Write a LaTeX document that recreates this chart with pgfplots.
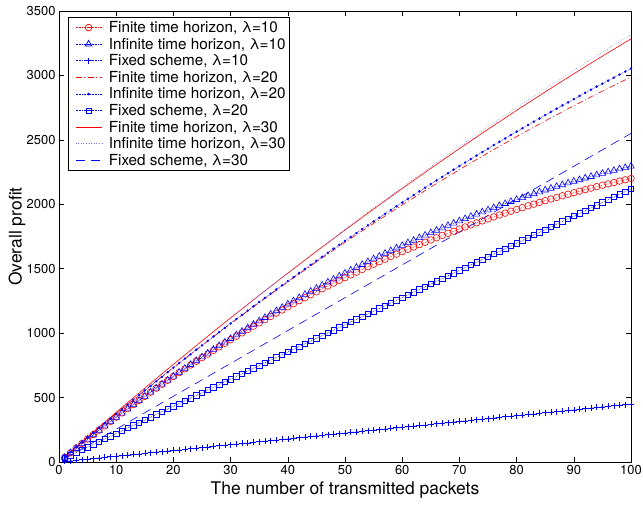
\documentclass[border=0pt]{standalone}
\usepackage{fontspec}
\setmainfont{TeX Gyre Heros}
\usepackage{pgfplots}
\pgfplotsset{compat=1.18}
\begin{document}
\begin{tikzpicture}
\begin{axis}[
  at={(0,0)}, anchor=south west,
  scale only axis, width=572bp, height=451bp,
  xmin=0, xmax=100, ymin=0, ymax=3500,
  xtick={0,10,...,100}, ytick={0,500,...,3500},
  tick align=inside, xtick pos=both, ytick pos=both,
  major tick length=5bp,
  axis line style={line width=0.8bp},
  every tick/.style={black, line width=0.6bp},
  tick label style={font=\fontsize{13}{15}\selectfont},
  /pgf/number format/assume math mode=true,
  /pgf/number format/1000 sep={},
  xlabel={The number of transmitted packets},
  ylabel={Overall profit},
  label style={font=\fontsize{17.5}{20}\selectfont},
  xlabel style={at={(axis description cs:0.5,0)}, anchor=north, yshift=-16bp},
  ylabel style={at={(axis description cs:-0.0525,0.5)}, anchor=south, rotate=0},
  clip=false,
  legend style={at={(0.0157,0.9867)}, anchor=north west, draw=black, line width=0.6bp,
    fill=white, font=\fontsize{15.3}{18}\selectfont, row sep=0bp, inner xsep=2bp, inner ysep=2bp},
  legend cell align=left,
  legend image code/.code={\path[draw, draw opacity=0, fill=none] (-5bp,-7.9bp) rectangle (31bp,7.9bp);
    \draw[mark repeat=2,mark phase=2,line width=0.75bp] plot coordinates {(0bp,0bp)(13bp,0bp)(26bp,0bp)};},
  every axis plot/.append style={line width=0.6bp},
]
\addplot[color=red, densely dotted, mark=o, mark size=3.3bp, mark options={solid}] coordinates {
(1,36)(2,72)(3,108)(4,143)(5,178)(6,213)(7,247)(8,281)(9,315)(10,348)(11,381)(12,414)(13,446)(14,478)(15,510)(16,542)(17,573)(18,603)(19,634)(20,664)(21,694)(22,723)(23,753)(24,782)(25,810)(26,838)(27,866)(28,894)(29,922)(30,949)(31,976)(32,1002)(33,1028)(34,1054)(35,1080)(36,1105)(37,1130)(38,1155)(39,1180)(40,1204)(41,1228)(42,1252)(43,1275)(44,1298)(45,1321)(46,1344)(47,1366)(48,1388)(49,1410)(50,1431)(51,1452)(52,1473)(53,1494)(54,1515)(55,1535)(56,1555)(57,1574)(58,1594)(59,1613)(60,1632)(61,1651)(62,1669)(63,1687)(64,1705)(65,1723)(66,1740)(67,1758)(68,1775)(69,1791)(70,1808)(71,1824)(72,1840)(73,1856)(74,1871)(75,1887)(76,1902)(77,1917)(78,1931)(79,1946)(80,1960)(81,1974)(82,1988)(83,2001)(84,2015)(85,2028)(86,2041)(87,2053)(88,2066)(89,2078)(90,2090)(91,2102)(92,2114)(93,2125)(94,2137)(95,2148)(96,2158)(97,2169)(98,2180)(99,2190)(100,2200)};
\addlegendentry{Finite time horizon, λ=10}
\addplot[color=blue, densely dotted, mark=triangle, mark size=3.8bp, mark options={solid}] coordinates {
(1,36)(2,71)(3,107)(4,142)(5,177)(6,211)(7,245)(8,279)(9,313)(10,346)(11,379)(12,412)(13,445)(14,477)(15,509)(16,541)(17,573)(18,604)(19,635)(20,666)(21,696)(22,726)(23,756)(24,786)(25,815)(26,844)(27,873)(28,902)(29,930)(30,958)(31,986)(32,1014)(33,1041)(34,1068)(35,1095)(36,1121)(37,1147)(38,1173)(39,1199)(40,1225)(41,1250)(42,1275)(43,1300)(44,1324)(45,1348)(46,1372)(47,1396)(48,1419)(49,1442)(50,1465)(51,1488)(52,1510)(53,1532)(54,1554)(55,1576)(56,1597)(57,1619)(58,1639)(59,1660)(60,1680)(61,1701)(62,1720)(63,1740)(64,1760)(65,1779)(66,1798)(67,1816)(68,1835)(69,1853)(70,1871)(71,1888)(72,1906)(73,1923)(74,1940)(75,1956)(76,1973)(77,1989)(78,2005)(79,2021)(80,2036)(81,2051)(82,2066)(83,2081)(84,2096)(85,2110)(86,2124)(87,2138)(88,2151)(89,2165)(90,2178)(91,2190)(92,2203)(93,2215)(94,2227)(95,2239)(96,2251)(97,2262)(98,2274)(99,2284)(100,2295)};
\addlegendentry{Infinite time horizon, λ=10}
\addplot[color=blue, densely dotted, mark=+, mark size=3bp, mark options={solid}] coordinates {
(1,4.5)(2,9)(3,13.5)(4,18)(5,22.5)(6,27)(7,31.5)(8,36)(9,40.5)(10,45)(11,49.5)(12,54)(13,58.5)(14,63)(15,67.5)(16,72)(17,76.5)(18,81)(19,85.5)(20,90)(21,94.5)(22,99)(23,103.5)(24,108)(25,112.5)(26,117)(27,121.5)(28,126)(29,130.5)(30,135)(31,139.5)(32,144)(33,148.5)(34,153)(35,157.5)(36,162)(37,166.5)(38,171)(39,175.5)(40,180)(41,184.5)(42,189)(43,193.5)(44,198)(45,202.5)(46,207)(47,211.5)(48,216)(49,220.5)(50,225)(51,229.5)(52,234)(53,238.5)(54,243)(55,247.5)(56,252)(57,256.5)(58,261)(59,265.5)(60,270)(61,274.5)(62,279)(63,283.5)(64,288)(65,292.5)(66,297)(67,301.5)(68,306)(69,310.5)(70,315)(71,319.5)(72,324)(73,328.5)(74,333)(75,337.5)(76,342)(77,346.5)(78,351)(79,355.5)(80,360)(81,364.5)(82,369)(83,373.5)(84,378)(85,382.5)(86,387)(87,391.5)(88,396)(89,400.5)(90,405)(91,409.5)(92,414)(93,418.5)(94,423)(95,427.5)(96,432)(97,436.5)(98,441)(99,445.5)(100,450)};
\addlegendentry{Fixed scheme, λ=10}
\addplot[color=red, dash pattern=on 6bp off 2.5bp on 1bp off 2.5bp] coordinates {
(1,38.2)(5,189.4)(10,374.7)(15,555.7)(20,732.5)(25,905.1)(30,1073.4)(35,1237.6)(40,1397.5)(45,1553.2)(50,1704.8)(55,1852)(60,1995.1)(65,2134)(70,2268.6)(75,2399.1)(80,2525.3)(85,2647.3)(90,2765.1)(95,2878.6)(100,2988)};
\addlegendentry{Finite time horizon, λ=20}
\addplot[color=blue, densely dotted, mark=*, mark size=0.9bp, mark options={solid}] coordinates {
(1,38)(2,76)(3,114)(4,151)(5,189)(6,226)(7,263)(8,300)(9,337)(10,374)(11,410)(12,446)(13,483)(14,519)(15,555)(16,590)(17,626)(18,661)(19,697)(20,732)(21,767)(22,802)(23,836)(24,871)(25,905)(26,940)(27,974)(28,1008)(29,1041)(30,1075)(31,1109)(32,1142)(33,1175)(34,1208)(35,1241)(36,1274)(37,1306)(38,1339)(39,1371)(40,1403)(41,1435)(42,1467)(43,1499)(44,1530)(45,1561)(46,1593)(47,1624)(48,1655)(49,1685)(50,1716)(51,1746)(52,1777)(53,1807)(54,1837)(55,1867)(56,1896)(57,1926)(58,1955)(59,1985)(60,2014)(61,2043)(62,2071)(63,2100)(64,2129)(65,2157)(66,2185)(67,2213)(68,2241)(69,2269)(70,2296)(71,2324)(72,2351)(73,2378)(74,2405)(75,2432)(76,2459)(77,2485)(78,2511)(79,2538)(80,2564)(81,2590)(82,2615)(83,2641)(84,2666)(85,2692)(86,2717)(87,2742)(88,2767)(89,2791)(90,2816)(91,2840)(92,2865)(93,2889)(94,2913)(95,2936)(96,2960)(97,2983)(98,3007)(99,3030)(100,3053)};
\addlegendentry{Infinite time horizon, λ=20}
\addplot[color=blue, densely dotted, mark=square, mark size=2.7bp, mark options={solid}] coordinates {
(1,31.1)(2,52.2)(3,73.3)(4,94.4)(5,115.5)(6,136.6)(7,157.7)(8,178.8)(9,199.9)(10,221)(11,242.1)(12,263.2)(13,284.3)(14,305.4)(15,326.5)(16,347.6)(17,368.7)(18,389.8)(19,410.9)(20,432)(21,453.1)(22,474.2)(23,495.3)(24,516.4)(25,537.5)(26,558.6)(27,579.7)(28,600.8)(29,621.9)(30,643)(31,664.1)(32,685.2)(33,706.3)(34,727.4)(35,748.5)(36,769.6)(37,790.7)(38,811.8)(39,832.9)(40,854)(41,875.1)(42,896.2)(43,917.3)(44,938.4)(45,959.5)(46,980.6)(47,1001.7)(48,1022.8)(49,1043.9)(50,1065)(51,1086.1)(52,1107.2)(53,1128.3)(54,1149.4)(55,1170.5)(56,1191.6)(57,1212.7)(58,1233.8)(59,1254.9)(60,1276)(61,1297.1)(62,1318.2)(63,1339.3)(64,1360.4)(65,1381.5)(66,1402.6)(67,1423.7)(68,1444.8)(69,1465.9)(70,1487)(71,1508.1)(72,1529.2)(73,1550.3)(74,1571.4)(75,1592.5)(76,1613.6)(77,1634.7)(78,1655.8)(79,1676.9)(80,1698)(81,1719.1)(82,1740.2)(83,1761.3)(84,1782.4)(85,1803.5)(86,1824.6)(87,1845.7)(88,1866.8)(89,1887.9)(90,1909)(91,1930.1)(92,1951.2)(93,1972.3)(94,1993.4)(95,2014.5)(96,2035.6)(97,2056.7)(98,2077.8)(99,2098.9)(100,2120)};
\addlegendentry{Fixed scheme, λ=20}
\addplot[color=red, solid] coordinates {
(1,39.1)(5,194.3)(10,385.5)(15,573.4)(20,758.2)(25,939.9)(30,1118.3)(35,1293.6)(40,1465.8)(45,1634.7)(50,1800.5)(55,1963.1)(60,2122.6)(65,2278.8)(70,2431.9)(75,2581.9)(80,2728.6)(85,2872.2)(90,3012.7)(95,3149.9)(100,3284)};
\addlegendentry{Finite time horizon, λ=30}
\addplot[color=blue!55, dotted] coordinates {
(1,39.1)(5,194.3)(10,385.5)(15,573.4)(20,758.2)(25,939.9)(30,1118.3)(35,1293.6)(40,1465.8)(45,1637.5)(50,1806)(55,1971.4)(60,2133.6)(65,2292.6)(70,2448.4)(75,2601.2)(80,2750.6)(85,2897)(90,3040.2)(95,3180.2)(100,3317)};
\addlegendentry{Infinite time horizon, λ=30}
\addplot[color=blue, dash pattern=on 9bp off 6bp] coordinates {
(1,25.5)(5,127.5)(10,255)(15,382.5)(20,510)(25,637.5)(30,765)(35,892.5)(40,1020)(45,1147.5)(50,1275)(55,1402.5)(60,1530)(65,1657.5)(70,1785)(75,1912.5)(80,2040)(85,2167.5)(90,2295)(95,2422.5)(100,2550)};
\addlegendentry{Fixed scheme, λ=30}
\end{axis}
\pgfresetboundingbox
\path[use as bounding box] (-59bp,-44bp) rectangle (584bp,462bp);
\end{tikzpicture}
\end{document}
